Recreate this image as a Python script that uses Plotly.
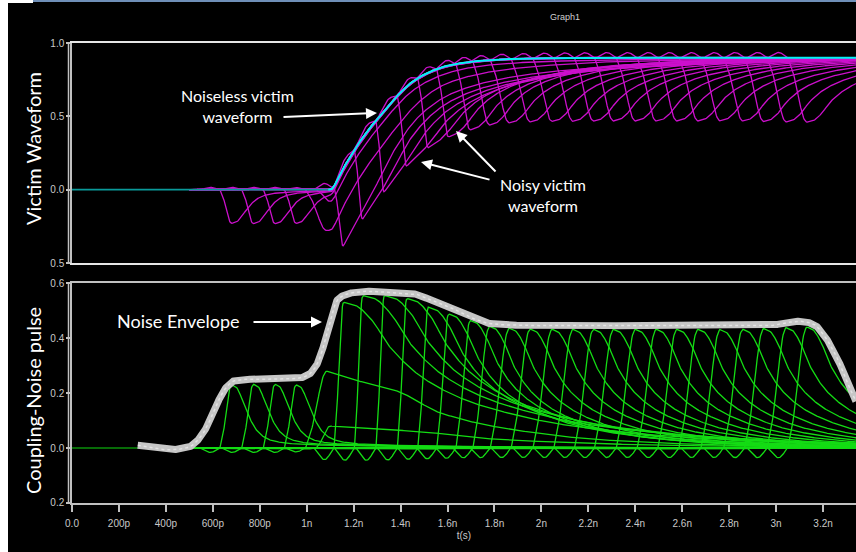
import numpy as np
import plotly.graph_objects as go
from plotly.subplots import make_subplots

# ---------------- data (time in ns) ----------------
# noiseless victim transition
victim_t = [0.0, 1.10, 1.15, 1.20, 1.25, 1.31, 1.38, 1.45, 1.52, 1.60, 1.70, 1.80, 1.90, 2.05, 2.30, 3.40]
victim_v = [0.0, 0.0, 0.13, 0.264, 0.38, 0.50, 0.63, 0.735, 0.80, 0.845, 0.872, 0.886, 0.893, 0.897, 0.90, 0.90]

# coupling-noise pulses: peak time, peak height, rise width, decay stretch, shape
pulse_peak_ns = [0.680, 0.773, 0.865, 0.955, 1.085, 1.100, 1.156, 1.238, 1.330, 1.426,
                 1.518, 1.604, 1.696, 1.778, 1.862, 1.951, 2.044, 2.133, 2.221, 2.306,
                 2.399, 2.488, 2.576, 2.666, 2.760, 2.857, 2.946, 3.042, 3.130]
pulse_amp = [0.230, 0.232, 0.232, 0.230, 0.280, 0.080, 0.530, 0.555, 0.555, 0.544,
             0.512, 0.488, 0.464, 0.443, 0.436, 0.433, 0.432, 0.432, 0.432, 0.432,
             0.432, 0.432, 0.432, 0.432, 0.431, 0.432, 0.435, 0.438, 0.440]
pulse_rise_ns = [0.05, 0.05, 0.05, 0.05, 0.09, 0.06, 0.04, 0.035, 0.035, 0.04,
                 0.045, 0.05, 0.06, 0.07, 0.08, 0.08, 0.08, 0.08, 0.08, 0.08,
                 0.08, 0.08, 0.08, 0.08, 0.08, 0.08, 0.08, 0.08, 0.08]
pulse_decay = [1.0, 1.0, 1.0, 1.0, 1.0, 1.3, 2.0, 2.0, 1.9, 1.7,
               1.4, 1.2, 1.1, 1.0, 1.0, 1.0, 1.0, 1.0, 1.0, 1.0,
               1.0, 1.0, 1.0, 1.0, 1.0, 1.0, 1.0, 1.0, 1.0]
pulse_shape = ["bell"] * 4 + ["broad"] * 2 + ["late"] * 23

# normalised pulse outlines: leading edge in rise widths, trailing edge in ns,
# plus the shallow undershoot (ns before the edge starts, fraction of the peak)
shapes = {
    "bell": dict(ru=[-1.0, -0.7, -0.4, -0.15, 0.0],
                 rg=[0.0, 0.25, 0.65, 0.95, 1.0],
                 dv=[0.0, 0.02, 0.05, 0.08, 0.107, 0.14, 0.18, 0.25, 0.4, 0.7, 1.2, 2.0],
                 dg=[1.0, 0.96, 0.72, 0.45, 0.28, 0.17, 0.11, 0.07, 0.045, 0.025, 0.01, 0.0],
                 sdt=[-0.085, -0.04, 0.0], sg=[0.0, -0.07, 0.0]),
    "broad": dict(ru=[-1.0, -0.75, -0.5, -0.25, -0.1, 0.0],
                  rg=[0.0, 0.2, 0.5, 0.85, 0.97, 1.0],
                  dv=[0.0, 0.1, 0.3, 0.49, 0.77, 1.2, 1.8, 2.4],
                  dg=[1.0, 0.9, 0.74, 0.45, 0.25, 0.1, 0.03, 0.0],
                  sdt=[-0.085, -0.04, 0.0], sg=[0.0, -0.05, 0.0]),
    "late": dict(ru=[-1.0, -0.75, -0.5, -0.25, -0.1, 0.0],
                 rg=[0.0, 0.2, 0.5, 0.85, 0.97, 1.0],
                 dv=[0.0, 0.025, 0.06, 0.1, 0.17, 0.26, 0.35, 0.45, 0.55, 0.7, 0.9, 1.2, 1.6, 2.2],
                 dg=[1.0, 0.98, 0.88, 0.69, 0.48, 0.33, 0.24, 0.17, 0.125, 0.08, 0.045, 0.02, 0.005, 0.0],
                 sdt=[-0.085, -0.04, 0.0], sg=[0.0, -0.08, 0.0]),
}

# noise envelope trace
env_t = [0.28, 0.34, 0.40, 0.46, 0.50, 0.545, 0.60, 0.645, 0.69, 0.75, 0.85, 0.95, 1.00, 1.03,
         1.057, 1.085, 1.107, 1.135, 1.185, 1.256, 1.35, 1.454, 1.525, 1.596, 1.667, 1.724,
         1.767, 1.838, 2.0, 2.4, 2.8, 2.96, 3.03, 3.10, 3.158, 3.20, 3.244, 3.272, 3.30, 3.34]
env_v = [0.010, 0.003, -0.007, -0.004, 0.004, 0.037, 0.122, 0.207, 0.244, 0.250, 0.250, 0.252,
         0.262, 0.285, 0.330, 0.415, 0.488, 0.543, 0.563, 0.570, 0.566, 0.561, 0.540, 0.518,
         0.488, 0.466, 0.454, 0.448, 0.445, 0.445, 0.443, 0.443, 0.454, 0.461, 0.451, 0.415,
         0.354, 0.305, 0.244, 0.170]

x_tick_vals = [0.0, 0.2, 0.4, 0.6, 0.8, 1.0, 1.2, 1.4, 1.6, 1.8, 2.0, 2.2, 2.4, 2.6, 2.8, 3.0, 3.2]
x_tick_text = ["0.0", "200p", "400p", "600p", "800p", "1n", "1.2n", "1.4n", "1.6n", "1.8n",
               "2n", "2.2n", "2.4n", "2.6n", "2.8n", "3n", "3.2n"]
top_tick_vals = [-0.5, 0.0, 0.5, 1.0]
top_tick_text = ["0.5", "0.0", "0.5", "1.0"]
bot_tick_vals = [-0.2, 0.0, 0.2, 0.4, 0.6]
bot_tick_text = ["0.2", "0.0", "0.2", "0.4", "0.6"]


# ---------------- helpers ----------------
def pchip(xk, yk, x):
    """Shape-preserving cubic through the knots, held constant outside."""
    xk = np.asarray(xk, float)
    yk = np.asarray(yk, float)
    x = np.asarray(x, float)
    h = np.diff(xk)
    d = np.diff(yk) / h
    n = len(xk)
    m = np.zeros(n)
    m[0], m[-1] = d[0], d[-1]
    for k in range(1, n - 1):
        if d[k - 1] * d[k] <= 0:
            m[k] = 0.0
        else:
            w1 = 2 * h[k] + h[k - 1]
            w2 = h[k] + 2 * h[k - 1]
            m[k] = (w1 + w2) / (w1 / d[k - 1] + w2 / d[k])
    xc = np.clip(x, xk[0], xk[-1])
    i = np.clip(np.searchsorted(xk, xc) - 1, 0, n - 2)
    s = (xc - xk[i]) / h[i]
    h00 = 2 * s**3 - 3 * s**2 + 1
    h10 = s**3 - 2 * s**2 + s
    h01 = -2 * s**3 + 3 * s**2
    h11 = s**3 - s**2
    return h00 * yk[i] + h10 * h[i] * m[i] + h01 * yk[i + 1] + h11 * h[i] * m[i + 1]


def pulse(t, tp, amp, rise, decay, shape):
    sh = shapes[shape]
    dt = t - tp
    out = np.zeros_like(t)
    # undershoot just ahead of the edge
    ds = dt + rise
    pre = (ds < 0) & (ds > sh["sdt"][0])
    out[pre] = pchip(sh["sdt"], sh["sg"], ds[pre])
    lead = (dt < 0) & (ds >= 0)
    out[lead] = pchip(sh["ru"], sh["rg"], dt[lead] / rise)
    trail = dt >= 0
    v = dt[trail] / decay
    out[trail] = np.where(v > sh["dv"][-1], 0.0, pchip(sh["dv"], sh["dg"], v))
    return amp * out


X_MAX = 3.3404
t_full = np.arange(0.0, X_MAX + 0.003, 0.003)
t_noisy = t_full[t_full >= 0.5]
clean_full = pchip(victim_t, victim_v, t_full)
clean_noisy = pchip(victim_t, victim_v, t_noisy)

fig = make_subplots(rows=2, cols=1, shared_xaxes=True, vertical_spacing=0.0435,
                    row_heights=[0.5, 0.5])

# ---------------- traces ----------------
noise_curves = []
for tp, a, r, dcy, sh in zip(pulse_peak_ns, pulse_amp, pulse_rise_ns, pulse_decay, pulse_shape):
    noise_curves.append(pulse(t_noisy, tp, a, r, dcy, sh))

for nz in noise_curves:
    fig.add_trace(go.Scatter(x=t_noisy, y=clean_noisy - nz, mode="lines",
                             line=dict(color="#cc10cc", width=1.3),
                             hoverinfo="skip", showlegend=False), row=1, col=1)

flat = t_full <= 1.10
fig.add_trace(go.Scatter(x=t_full[flat], y=clean_full[flat], mode="lines",
                         line=dict(color="#0a9a9a", width=1.6),
                         hoverinfo="skip", showlegend=False), row=1, col=1)
fig.add_trace(go.Scatter(x=t_full[t_full >= 1.09], y=clean_full[t_full >= 1.09], mode="lines",
                         line=dict(color="#00f4f4", width=2),
                         hoverinfo="skip", showlegend=False), row=1, col=1)

fig.add_trace(go.Scatter(x=t_full, y=np.zeros_like(t_full), mode="lines",
                         line=dict(color="#0a8f0a", width=1.6),
                         hoverinfo="skip", showlegend=False), row=2, col=1)
for nz in noise_curves:
    fig.add_trace(go.Scatter(x=t_noisy, y=nz, mode="lines",
                             line=dict(color="#14dc14", width=1.3),
                             hoverinfo="skip", showlegend=False), row=2, col=1)

env_x = np.arange(env_t[0], env_t[-1] + 0.002, 0.002)
env_y = pchip(env_t, env_v, env_x)
fig.add_trace(go.Scatter(x=env_x, y=env_y, mode="lines",
                         line=dict(color="#c6c6c6", width=7),
                         hoverinfo="skip", showlegend=False), row=2, col=1)
fig.add_trace(go.Scatter(x=env_x, y=env_y, mode="lines",
                         line=dict(color="rgba(255,255,255,0.5)", width=1.5, dash="dot"),
                         hoverinfo="skip", showlegend=False), row=2, col=1)

# ---------------- layout ----------------
L, R, T, B = 72, 0, 43, 49
W, H = 856, 552
PW, PH = W - L - R, H - T - B


def px_x(px):
    return (px - L) / PW


def px_y(py):
    return (H - B - py) / PH


axis_font = dict(family="Liberation Sans, Arial, sans-serif", size=10, color="#c9c9c9")

fig.update_xaxes(range=[0, X_MAX], showgrid=False, zeroline=False,
                 showline=True, mirror=True, linecolor="#c0c0c0", linewidth=1.5)
fig.update_xaxes(row=1, col=1, showticklabels=False, ticks="", linecolor="#e6e6e6")
fig.update_xaxes(row=2, col=1, tickmode="array", tickvals=x_tick_vals, ticktext=x_tick_text,
                 ticks="outside", ticklen=7, tickwidth=1.5, tickcolor="#c0c0c0",
                 tickfont=axis_font, ticklabelstandoff=3,
                 title=dict(text="t(s)", font=dict(family="Liberation Sans, Arial, sans-serif",
                                                   size=10, color="#c9c9c9"), standoff=4))
fig.update_yaxes(showgrid=False, zeroline=False, showline=True, linecolor="#c0c0c0",
                 linewidth=1.5, ticks="outside", ticklen=4, tickwidth=1.5, tickcolor="#c0c0c0",
                 tickfont=axis_font, tickmode="array")
fig.update_yaxes(row=1, col=1, range=[-0.5, 1.0], tickvals=top_tick_vals, ticktext=top_tick_text)
fig.update_yaxes(row=2, col=1, range=[-0.2, 0.6], tickvals=bot_tick_vals, ticktext=bot_tick_text)

white = "#ffffff"
label_font = dict(family="Lato, Open Sans, sans-serif", size=16, color=white)
centred = dict(xref="paper", yref="paper", xanchor="center", yanchor="middle", showarrow=False)
annotations = [
    dict(text="Graph1", x=px_x(565), y=px_y(17),
         font=dict(family="Liberation Sans, Arial, sans-serif", size=9, color="#d0d0d0"), **centred),
    dict(text="Victim Waveform", x=px_x(33), y=px_y(149), textangle=-90,
         font=dict(family="Lato, Open Sans, sans-serif", size=20, color=white), **centred),
    dict(text="Coupling-Noise pulse", x=px_x(33), y=px_y(401), textangle=-90,
         font=dict(family="Lato, Open Sans, sans-serif", size=20, color=white), **centred),
    dict(text="Noiseless victim<br>waveform", x=px_x(237), y=px_y(106),
         font=label_font, align="center", **centred),
    dict(text="Noisy victim<br>waveform", x=px_x(543), y=px_y(195),
         font=label_font, align="center", **centred),
    dict(text="Noise Envelope", x=px_x(178), y=px_y(321),
         font=dict(family="Lato, Open Sans, sans-serif", size=18, color=white), **centred),
]
arrows = [((377, 113), (-95, 4)), ((456, 131), (41, 42)), ((421, 162), (70, 18)),
          ((322, 322), (-70, 0))]
for (hx, hy), (ax, ay) in arrows:
    annotations.append(dict(text="", x=px_x(hx), y=px_y(hy), xref="paper", yref="paper",
                            ax=ax, ay=ay, showarrow=True, arrowhead=2, arrowsize=1.1,
                            arrowwidth=2, arrowcolor=white))

layout_shapes = [
    # second rule alongside each value axis
    dict(type="line", xref="paper", yref="paper", x0=px_x(68.5), x1=px_x(68.5),
         y0=px_y(263), y1=px_y(43), line=dict(color="#c0c0c0", width=1.5)),
    dict(type="line", xref="paper", yref="paper", x0=px_x(68.5), x1=px_x(68.5),
         y0=px_y(503), y1=px_y(283), line=dict(color="#c0c0c0", width=1.5)),
    # window frame
    dict(type="rect", xref="paper", yref="paper", x0=px_x(0), x1=px_x(8), y0=px_y(552),
         y1=px_y(0), fillcolor=white, line=dict(width=0), layer="above"),
    dict(type="rect", xref="paper", yref="paper", x0=px_x(0), x1=px_x(33), y0=px_y(3),
         y1=px_y(0), fillcolor=white, line=dict(width=0), layer="above"),
    dict(type="rect", xref="paper", yref="paper", x0=px_x(33), x1=px_x(856), y0=px_y(2),
         y1=px_y(0), fillcolor="#6f8fb8", line=dict(width=0), layer="above"),
]

fig.update_layout(width=W, height=H, margin=dict(l=L, r=R, t=T, b=B),
                  paper_bgcolor="black", plot_bgcolor="black",
                  annotations=annotations, shapes=layout_shapes, showlegend=False)

fig.write_html("out.html")
